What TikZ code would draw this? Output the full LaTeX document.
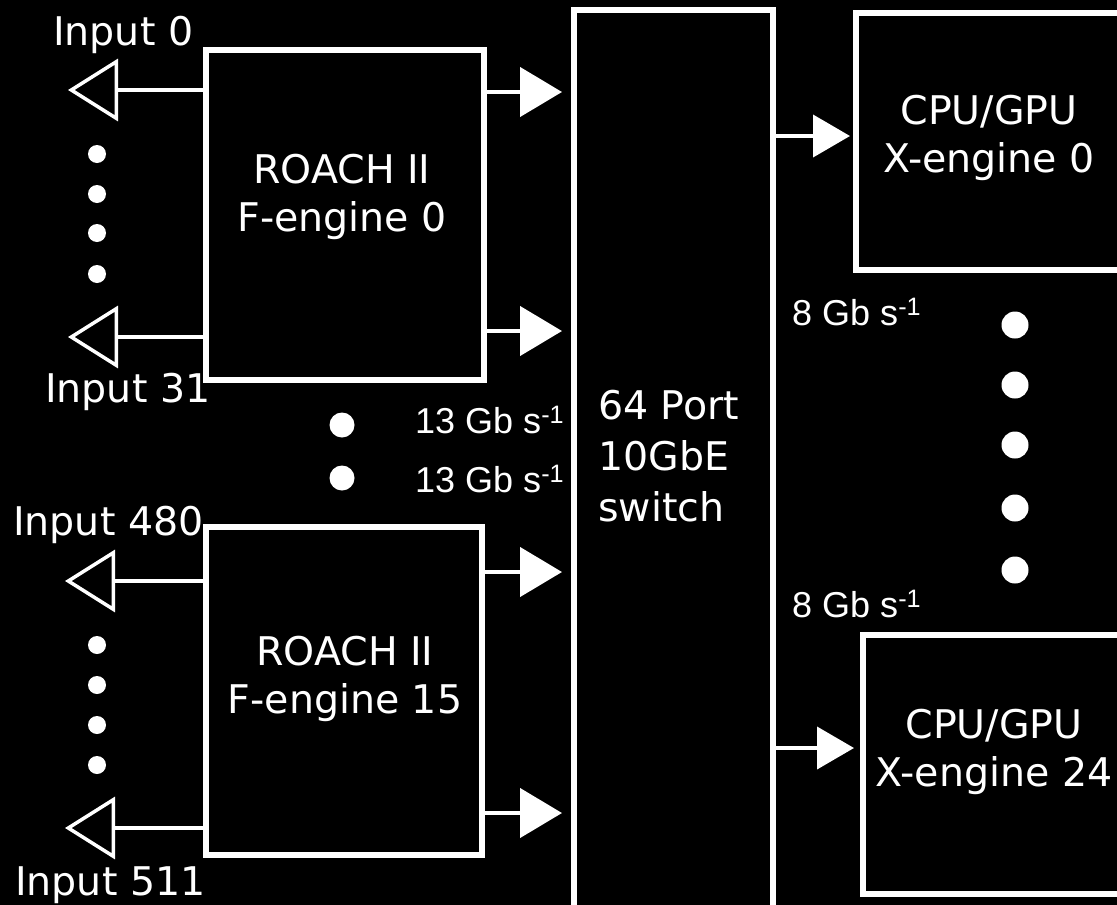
\documentclass[tikz,border=0pt]{standalone}
\usepackage{fontspec}
\setmainfont{DejaVu Sans}
\newfontfamily\ratefont{Liberation Sans}
\usetikzlibrary{arrows.meta}
\newcommand{\rate}[1]{{\ratefont\fontsize{36}{40}\selectfont #1 Gb s\textsuperscript{-1}}}
\begin{document}
\begin{tikzpicture}[x=1pt, y=-1pt, white, font=\fontsize{39.5}{48}\selectfont,
  box/.style={rectangle, draw=white, fill=black, line width=6pt, inner sep=0pt},
  lbl/.style={inner sep=0pt, align=center, text=white},
  feed/.style={line width=3.5pt, -{Triangle[open, length=50pt, width=62pt]}},
  link/.style={line width=4.5pt, -{Triangle[length=42pt, width=49pt]}, shorten >=9pt},
  xlink/.style={line width=4pt, -{Triangle[length=37pt, width=42pt]}}]
  \fill[black] (0,0) rectangle (1117,905);
  \clip (0,0) rectangle (1117,905);

  \node[box, minimum width=278pt, minimum height=330pt] (f0) at (345,215) {};
  \node[box, minimum width=276pt, minimum height=328pt] (f15) at (344,691) {};
  \node[box, minimum width=199pt, minimum height=920pt] (sw) at (673.5,470) {};
  \node[box, minimum width=269pt, minimum height=257pt] (x0) at (990.5,141.5) {};
  \node[box, minimum width=262pt, minimum height=259pt] (x24) at (994,764.5) {};

  \node[lbl] (tf0) at (342,197) {ROACH II\\F-engine 0};
  \node[lbl] (tf15) at (345,679) {ROACH II\\F-engine 15};
  \node[lbl, align=left, anchor=north west, font=\fontsize{39.5}{51}\selectfont] (tsw) at (598,390) {64 Port\\10GbE\\switch};
  \node[lbl] (tx0) at (989,138) {CPU/GPU\\X-engine 0};
  \node[lbl] (tx24) at (994,752) {CPU/GPU\\X-engine 24};

  \node[lbl, anchor=base west] (l0) at (53,45) {Input 0};
  \node[lbl, anchor=base west] (l31) at (45,402) {Input 31};
  \node[lbl, anchor=base west] (l480) at (13,535) {Input 480};
  \node[lbl, anchor=base west] (l511) at (15,895) {Input 511};

  \coordinate (in0) at (68,90);
  \coordinate (in31) at (68,337);
  \coordinate (in480) at (65,581);
  \coordinate (in511) at (65,828);
  \draw[feed] (f0.west |- in0) -- (in0);
  \draw[feed] (f0.west |- in31) -- (in31);
  \draw[feed] (f15.west |- in480) -- (in480);
  \draw[feed] (f15.west |- in511) -- (in511);

  \coordinate (p1) at (0,92);
  \coordinate (p2) at (0,331);
  \coordinate (p3) at (0,572);
  \coordinate (p4) at (0,813);
  \draw[link] (f0.east |- p1) -- (sw.west |- p1);
  \draw[link] (f0.east |- p2) -- (sw.west |- p2);
  \draw[link] (f15.east |- p3) -- (sw.west |- p3);
  \draw[link] (f15.east |- p4) -- (sw.west |- p4);

  \coordinate (q1) at (0,136);
  \coordinate (q2) at (0,748);
  \draw[xlink, shorten >=3pt] (sw.east |- q1) -- (x0.west |- q1);
  \draw[xlink, shorten >=6pt] (sw.east |- q2) -- (x24.west |- q2);

  \node[lbl, anchor=base west] (r1) at (415,433) {\rate{13}};
  \node[lbl, anchor=base west] (r2) at (415,492) {\rate{13}};
  \node[lbl, anchor=base west] (r3) at (792,325) {\rate{8}};
  \node[lbl, anchor=base west] (r4) at (792,617) {\rate{8}};

  \foreach \y in {154,194,233,274,645,685,725,765}
    \fill (97,\y) circle (9pt);
  \foreach \y in {425,478}
    \fill (342,\y) circle (12.5pt);
  \foreach \y in {325,385,445,508,570}
    \fill (1015,\y) circle (13.5pt);
\end{tikzpicture}
\end{document}
